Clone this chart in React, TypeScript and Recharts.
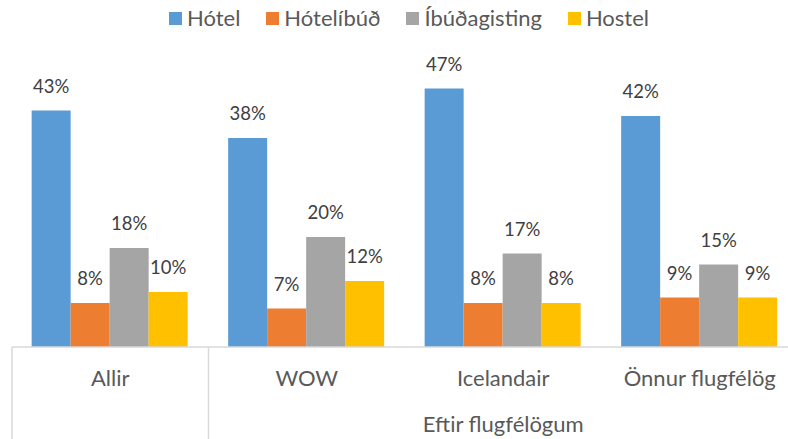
import React from 'react';
import { BarChart, Bar, XAxis, YAxis, LabelList } from 'recharts';

const categories = ['Allir', 'WOW', 'Icelandair', 'Önnur flugfélög'];
const hotel = [43, 38, 47, 42];
const hotelibud = [8, 7, 8, 9];
const ibudagisting = [18, 20, 17, 15];
const hostel = [10, 12, 8, 9];
const groupLabel = 'Eftir flugfélögum';

const SERIES = [
  { key: 'hotel', name: 'Hótel', color: '#5b9bd5' },
  { key: 'hotelibud', name: 'Hótelíbúð', color: '#ed7d31' },
  { key: 'ibudagisting', name: 'Íbúðagisting', color: '#a5a5a5' },
  { key: 'hostel', name: 'Hostel', color: '#ffc000' },
];

const data = categories.map((c, i) => ({
  name: c,
  hotel: hotel[i],
  hotelibud: hotelibud[i],
  ibudagisting: ibudagisting[i],
  hostel: hostel[i],
}));

const FONT = 'Lato, "Open Sans", sans-serif';
const CHART_W = 800;
const CHART_H = 439;
const X_AXIS_H = 30;
const MARGIN = { top: 72, right: 2, bottom: 92 - X_AXIS_H, left: 12 };
const HALF_BAND = (CHART_W - MARGIN.left - MARGIN.right) / categories.length / 2;

const ChartLegend = () => (
  <div
    style={{
      position: 'absolute', top: 5, left: 4, width: 810,
      display: 'flex', justifyContent: 'center', gap: 26,
      fontFamily: FONT, fontSize: 22, color: '#595959', lineHeight: '26px',
    }}
  >
    {SERIES.map((s) => (
      <div key={s.key} style={{ display: 'flex', alignItems: 'center', gap: 5 }}>
        <span style={{ width: 13, height: 13, background: s.color, display: 'inline-block' }} />
        <span>{s.name}</span>
      </div>
    ))}
  </div>
);

const CategoryTick = (props: any) => {
  const { x, y, payload, index } = props;
  return (
    <g>
      {index === 0 && (
        <>
          <line x1={x - HALF_BAND} x2={x - HALF_BAND} y1={y} y2={CHART_H} stroke="#d9d9d9" strokeWidth={1.5} />
          <line x1={x + HALF_BAND} x2={x + HALF_BAND} y1={y} y2={CHART_H} stroke="#d9d9d9" strokeWidth={1.5} />
        </>
      )}
      <text x={x} y={y + 39} textAnchor="middle" fontFamily={FONT} fontSize={22} fill="#595959">
        {payload.value}
      </text>
      {index === 2 && (
        <text x={x} y={y + 85} textAnchor="middle" fontFamily={FONT} fontSize={22} fill="#595959">
          {groupLabel}
        </text>
      )}
    </g>
  );
};

export default function App() {
  return (
    <div style={{ position: 'absolute', top: 0, left: 0, width: 788, height: 439, overflow: 'hidden', background: '#fff' }}>
      <BarChart width={CHART_W} height={CHART_H} data={data} margin={MARGIN} barCategoryGap="10%" barGap={0}>
        <YAxis hide domain={[0, 50]} />
        <XAxis
          dataKey="name"
          height={X_AXIS_H}
          axisLine={{ stroke: '#d9d9d9', strokeWidth: 1.5 }}
          tickLine={false}
          tickSize={0}
          tickMargin={0}
          tick={<CategoryTick />}
          interval={0}
        />
        {SERIES.map((s) => (
          <Bar key={s.key} dataKey={s.key} name={s.name} fill={s.color} isAnimationActive={false}>
            <LabelList
              dataKey={s.key}
              position="top"
              offset={18}
              formatter={(v: any) => `${v}%`}
              style={{ fontFamily: FONT, fontSize: 18.5, fill: '#404040' }}
            />
          </Bar>
        ))}
      </BarChart>
      <ChartLegend />
    </div>
  );
}
